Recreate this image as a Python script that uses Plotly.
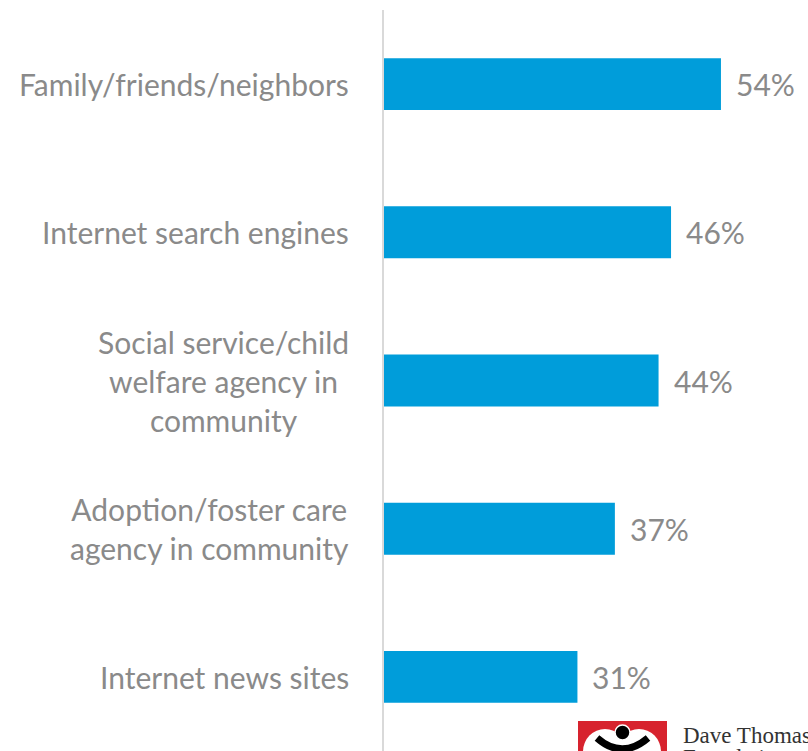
import plotly.graph_objects as go

# Where people would look for information about adoption / foster care
categories = [
    "Family/friends/neighbors",
    "Internet search engines",
    "Social service/child<br>welfare agency in<br>community",
    "Adoption/foster care<br>agency in community",
    "Internet news sites",
]
values = [54, 46, 44, 37, 31]
value_labels = ["54%", "46%", "44%", "37%", "31%"]

BAR_COLOR = "#009DDA"
TEXT_COLOR = "#8A8A8A"
FONT = "Lato, 'Open Sans', sans-serif"
FONT_SIZE = 30

W, H = 808, 751
L, T = 384, 10
PLOT_W, PLOT_H = W - L, H - T

fig = go.Figure(
    go.Bar(
        x=values,
        y=categories,
        orientation="h",
        marker=dict(color=BAR_COLOR, line=dict(width=0)),
        width=0.35,
        hoverinfo="skip",
    )
)

# category labels: blocks right-aligned to the axis, lines centered within block
for cat in categories:
    fig.add_annotation(
        x=-33 / PLOT_W, xref="paper", xanchor="right",
        y=cat, yref="y", yanchor="middle",
        text=cat, align="center", showarrow=False,
        font=dict(family=FONT, size=FONT_SIZE, color=TEXT_COLOR),
    )

# value labels at the end of each bar
for cat, v, lab in zip(categories, values, value_labels):
    fig.add_annotation(
        x=v, xref="x", xanchor="left", xshift=13,
        y=cat, yref="y", yanchor="middle",
        text=lab, showarrow=False,
        font=dict(family=FONT, size=FONT_SIZE, color=TEXT_COLOR),
    )


def px(xp):
    return (xp - L) / PLOT_W


def py(yp):
    return (H - yp) / PLOT_H


# foundation logo in the lower right corner
logo_shapes = [
    dict(type="rect", x0=px(578), x1=px(667), y0=py(775), y1=py(721),
         fillcolor="#D7232E", line=dict(width=0)),
    dict(type="circle", x0=px(583), x1=px(627), y0=py(774), y1=py(729),
         fillcolor="white", line=dict(width=0)),
    dict(type="circle", x0=px(617), x1=px(661), y0=py(774), y1=py(729),
         fillcolor="white", line=dict(width=0)),
    dict(type="path",
         path=f"M {px(597)},{py(738)} Q {px(622)},{py(760)} {px(648)},{py(738)}",
         line=dict(color="black", width=7)),
    dict(type="circle", x0=px(615), x1=px(630), y0=py(740), y1=py(725),
         fillcolor="black", line=dict(color="white", width=1.5)),
]
for s in logo_shapes:
    fig.add_shape(xref="paper", yref="paper", layer="above", **s)

SERIF = "'Liberation Serif', 'DejaVu Serif', serif"
fig.add_annotation(
    x=px(681), xref="paper", xanchor="left",
    y=py(735), yref="paper", yanchor="middle",
    text="Dave Thomas", showarrow=False,
    font=dict(family=SERIF, size=23, color="#333333"),
)
fig.add_annotation(
    x=px(681), xref="paper", xanchor="left",
    y=py(757), yref="paper", yanchor="middle",
    text="Foundation", showarrow=False,
    font=dict(family=SERIF, size=23, color="#333333"),
)

fig.update_layout(
    width=W, height=H,
    margin=dict(l=L, r=0, t=T, b=0, pad=0),
    paper_bgcolor="white", plot_bgcolor="white",
    showlegend=False,
    xaxis=dict(range=[0, PLOT_W / 6.24], visible=False, fixedrange=True),
    yaxis=dict(
        autorange="reversed", showticklabels=False, ticks="",
        showgrid=False, zeroline=False,
        showline=True, linecolor="#D9D9D9", linewidth=2,
    ),
)

fig.write_html("out.html")
